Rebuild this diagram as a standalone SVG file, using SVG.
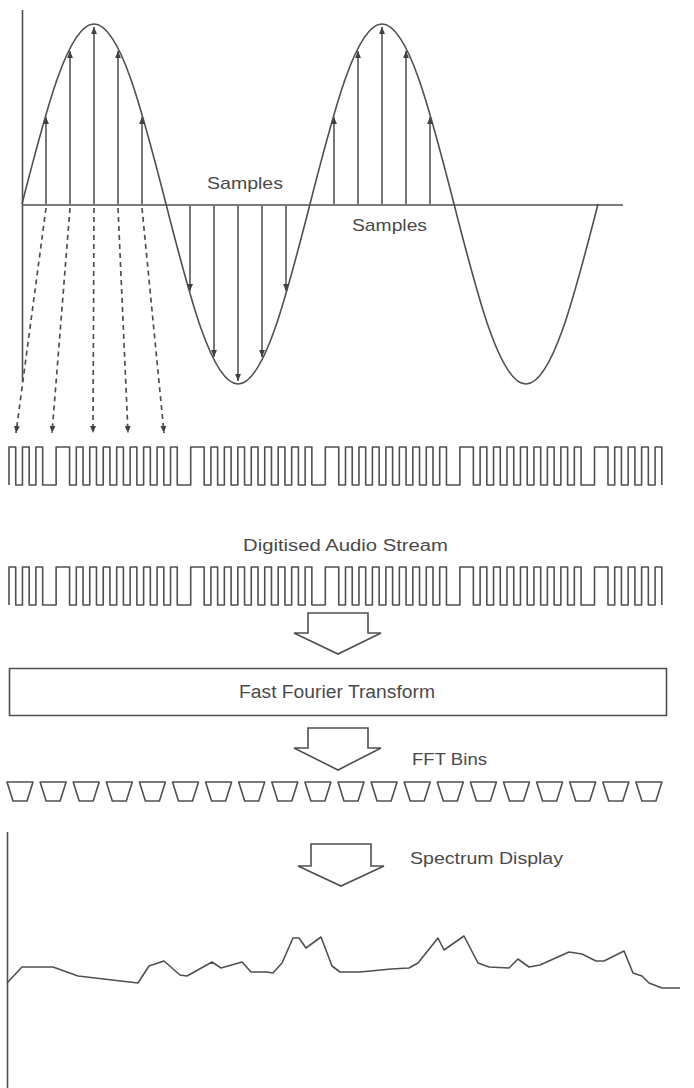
<svg xmlns="http://www.w3.org/2000/svg" width="694" height="1088" viewBox="0 0 694 1088">
<style>
.ln{fill:none;stroke:#505050;stroke-width:1.6;stroke-linejoin:round;stroke-linecap:butt}
.smp{fill:none;stroke:#6a6a6a;stroke-width:1.8}
.dash{fill:none;stroke:#505050;stroke-width:1.7;stroke-dasharray:5 4}
.hollow{fill:#fff;stroke:#505050;stroke-width:1.6;stroke-linejoin:miter}
.txt{font-family:"Liberation Sans",Arial,sans-serif;fill:#4a4a4a}
</style>
<defs>
<marker id="ah" viewBox="0 0 8 8" refX="8" refY="4" markerWidth="7" markerHeight="7" markerUnits="userSpaceOnUse" orient="auto">
<path d="M0,0.6 L8,4 L0,7.4 z" fill="#404040"/>
</marker>
<path id="stream" class="ln" d="M9,0v-38h6.73v38h6.73v-38h6.73v38h6.73v-38h6.73v38
h13.46v-38h13.46v38h6.73v-38h6.73v38h6.73v-38h6.73v38h6.73v-38h6.73v38h6.73v-38h6.73v38h6.73v-38h6.73v38h6.73v-38h6.73v38h6.73v-38h6.73v38h6.73v-38h6.73v38
h13.46v-38h13.46v38h6.73v-38h6.73v38h6.73v-38h6.73v38h6.73v-38h6.73v38h6.73v-38h6.73v38h6.73v-38h6.73v38h6.73v-38h6.73v38h6.73v-38h6.73v38h6.73v-38h6.73v38
h13.46v-38h13.46v38h6.73v-38h6.73v38h6.73v-38h6.73v38h6.73v-38h6.73v38h6.73v-38h6.73v38h6.73v-38h6.73v38h6.73v-38h6.73v38h6.73v-38h6.73v38h6.73v-38h6.73v38
h13.46v-38h13.46v38h6.73v-38h6.73v38h6.73v-38h6.73v38h6.73v-38h6.73v38h6.73v-38h6.73v38h6.73v-38h6.73v38h6.73v-38h6.73v38h6.73v-38h6.73v38h6.73v-38h6.73v38
h13.46v-38h13.46v38h6.73v-38h6.73v38h6.73v-38h6.73v38h6.73v-38h6.73v38h6.73v-38h6.73v38"/>
<polygon id="bin" class="ln" points="0,0 26,0 20,19 6,19"/>
</defs>
<rect width="694" height="1088" fill="#fff"/>

<g id="waveform">
<line class="ln" x1="22.5" y1="10" x2="22.5" y2="382"/>
<line class="ln" x1="22" y1="205" x2="623" y2="205"/>
<path class="ln" d="M22,204 C45.48,111.8 67.95,24 94,24 C120.05,24 142.52,111.8 166,204 C189.48,296.2 211.95,384 238,384 C264.05,384 286.52,296.2 310,204 C333.48,111.8 355.95,24 382,24 C408.05,24 430.52,111.8 454,204 C477.48,296.2 499.95,384 526,384 C552.05,384 574.52,296.2 598,204"/>
<text class="txt" x="207" y="189" font-size="17" textLength="76" lengthAdjust="spacingAndGlyphs">Samples</text>
<text class="txt" x="352" y="231" font-size="17" textLength="75" lengthAdjust="spacingAndGlyphs">Samples</text>
</g>

<g id="connectors">
<g id="sample-arrows" marker-end="url(#ah)">
<line class="smp" x1="46" y1="205" x2="46" y2="117"/>
<line class="smp" x1="70" y1="205" x2="70" y2="51"/>
<line class="smp" x1="94" y1="205" x2="94" y2="27"/>
<line class="smp" x1="118" y1="205" x2="118" y2="51"/>
<line class="smp" x1="142" y1="205" x2="142" y2="117"/>
<line class="smp" x1="190" y1="205" x2="190" y2="291"/>
<line class="smp" x1="214" y1="205" x2="214" y2="357"/>
<line class="smp" x1="238" y1="205" x2="238" y2="381"/>
<line class="smp" x1="262" y1="205" x2="262" y2="357"/>
<line class="smp" x1="286" y1="205" x2="286" y2="291"/>
<line class="smp" x1="334" y1="205" x2="334" y2="117"/>
<line class="smp" x1="358" y1="205" x2="358" y2="51"/>
<line class="smp" x1="382" y1="205" x2="382" y2="27" stroke="#a8a8a8" stroke-width="1.2"/>
<line class="smp" x1="406" y1="205" x2="406" y2="51"/>
<line class="smp" x1="430" y1="205" x2="430" y2="117"/>
</g>
<g id="quantise-arrows" marker-end="url(#ah)">
<line class="dash" x1="46" y1="208" x2="16" y2="433"/>
<line class="dash" x1="70" y1="208" x2="52" y2="433"/>
<line class="dash" x1="94" y1="208" x2="93" y2="433"/>
<line class="dash" x1="118" y1="208" x2="128" y2="433"/>
<line class="dash" x1="142" y1="208" x2="164" y2="433"/>
</g>
<polygon id="arrow-fft" class="hollow" points="308,613 368,613 368,633 381,633 338,654 294,633 308,633"/>
<polygon id="arrow-bins" class="hollow" points="308,728 368,728 368,748 381,748 338,770 294,748 308,748"/>
<polygon id="arrow-spectrum" class="hollow" points="311,844 371,844 371,866 384,866 341,886 298,866 311,866"/>
</g>

<g id="stream-1">
<use href="#stream" y="485"/>
</g>

<g id="stream-2">
<text class="txt" x="243" y="551" font-size="16" textLength="205" lengthAdjust="spacingAndGlyphs">Digitised Audio Stream</text>
<use href="#stream" y="605"/>
</g>

<g id="fft">
<rect class="ln" x="9.5" y="668.5" width="657" height="47" stroke-width="1.8"/>
<text class="txt" x="239" y="698" font-size="18" textLength="196" lengthAdjust="spacingAndGlyphs">Fast Fourier Transform</text>
</g>

<g id="fft-bins">
<text class="txt" x="412" y="765" font-size="17" textLength="75" lengthAdjust="spacingAndGlyphs">FFT Bins</text>
<use href="#bin" x="7" y="782"/>
<use href="#bin" x="40.1" y="782"/>
<use href="#bin" x="73.2" y="782"/>
<use href="#bin" x="106.3" y="782"/>
<use href="#bin" x="139.4" y="782"/>
<use href="#bin" x="172.5" y="782"/>
<use href="#bin" x="205.6" y="782"/>
<use href="#bin" x="238.7" y="782"/>
<use href="#bin" x="271.8" y="782"/>
<use href="#bin" x="304.9" y="782"/>
<use href="#bin" x="338" y="782"/>
<use href="#bin" x="371.1" y="782"/>
<use href="#bin" x="404.2" y="782"/>
<use href="#bin" x="437.3" y="782"/>
<use href="#bin" x="470.4" y="782"/>
<use href="#bin" x="503.5" y="782"/>
<use href="#bin" x="536.6" y="782"/>
<use href="#bin" x="569.7" y="782"/>
<use href="#bin" x="602.8" y="782"/>
<use href="#bin" x="635.9" y="782"/>
</g>

<g id="spectrum">
<text class="txt" x="410" y="864" font-size="17" textLength="153" lengthAdjust="spacingAndGlyphs">Spectrum Display</text>
<line class="ln" x1="7.5" y1="832" x2="7.5" y2="1088"/>
<polyline class="ln" points="7,983 22,967 53,967 78,976 138,983 149,966 164,961 180,975 187,976 212,962 221,968 242,962 251,972 267,972 273,973 282,963 293,938 299,938 306,948 321,937 332,966 340,972 360,972 391,969 409,968 418,963 438,938 444,950 464,936 478,963 489,967 509,968 518,959 529,967 540,965 569,952 582,954 596,961 604,961 624,951 633,973 642,976 649,983 662,988 680,988"/>
</g>
</svg>
